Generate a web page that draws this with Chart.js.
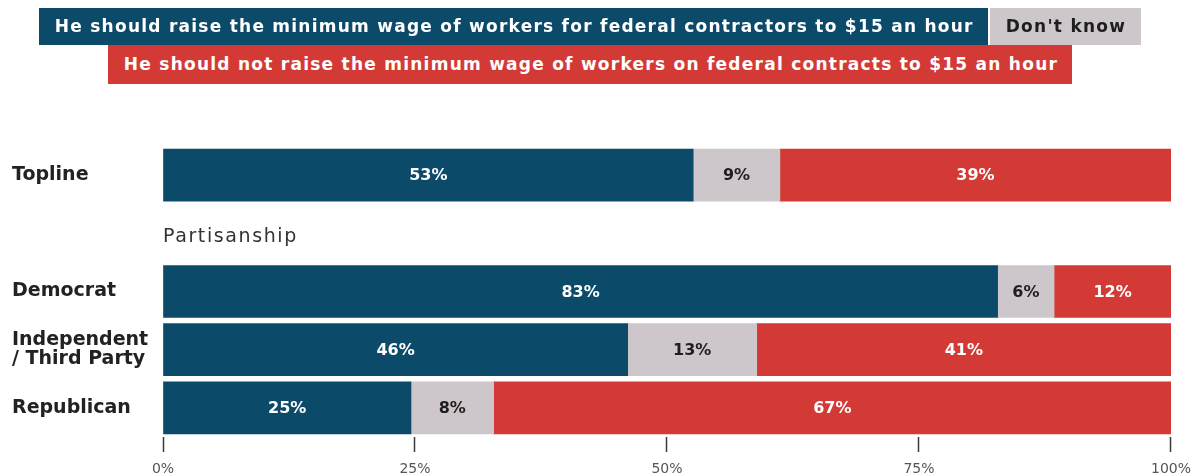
<!DOCTYPE html>
<html><head><meta charset="utf-8">
<script src="https://cdn.jsdelivr.net/npm/chart.js@4.4.1/dist/chart.umd.min.js"></script>
<style>
html,body{margin:0;padding:0;background:#fff;}
#wrap{position:relative;width:1200px;height:476px;overflow:hidden;}
#c{position:absolute;left:0;top:0;}
.row{position:absolute;left:0;width:1180px;display:flex;justify-content:center;}
.lg{box-sizing:border-box;white-space:nowrap;font-family:"DejaVu Sans",sans-serif;font-weight:700;font-size:17px;letter-spacing:1.25px;padding:0 14px 0 16px;}
</style></head>
<body><div id="wrap"><canvas id="c" width="1200" height="476"></canvas>
<div class="row" id="row1" style="top:8px;"></div>
<div class="row" id="row2" style="top:45px;"></div>
</div>
<script>
// ---- data ----
const categories = ['Topline', '', 'Democrat', ['Independent', '/ Third Party'], 'Republican'];
const sectionLabel = 'Partisanship';
const seriesNames = [
  'He should raise the minimum wage of workers for federal contractors to $15 an hour',
  "Don't know",
  'He should not raise the minimum wage of workers on federal contracts to $15 an hour'
];
const shouldRaise = [52.6, null, 82.8, 46.1, 24.6];
const dontKnow    = [8.6,  null, 5.6, 12.8, 8.2];
const shouldNot   = [38.8, null, 11.6, 41.1, 67.2];
const xTicks = [0, 25, 50, 75, 100];

// ---- styles ----
const colors = ['#0c4a6a', '#cdc7cb', '#d43a35'];
const textColors = ['#ffffff', '#1e1e1e', '#ffffff'];

// legend (HTML)
function legendBox(i, h){
  const d = document.createElement('div');
  d.className = 'lg';
  d.textContent = seriesNames[i];
  d.style.background = colors[i];
  d.style.color = textColors[i];
  d.style.height = h + 'px';
  d.style.lineHeight = h + 'px';
  return d;
}
document.getElementById('row1').appendChild(legendBox(0, 37));
const dk = legendBox(1, 37); dk.style.marginLeft = '2px'; dk.style.padding = '0 15px 0 16px';
document.getElementById('row1').appendChild(dk);
document.getElementById('row2').appendChild(legendBox(2, 39));

const FONT = '"DejaVu Sans", sans-serif';

const barLabels = {
  id: 'barLabels',
  afterDatasetsDraw(chart){
    const ctx = chart.ctx;
    ctx.save();
    ctx.font = '700 16px ' + FONT;
    ctx.textAlign = 'center';
    ctx.textBaseline = 'middle';
    chart.data.datasets.forEach((ds, di) => {
      const meta = chart.getDatasetMeta(di);
      meta.data.forEach((el, i) => {
        const v = ds.data[i];
        if (v === null || v === undefined) return;
        const p = el.getCenterPoint();
        ctx.fillStyle = textColors[di];
        ctx.fillText(Math.round(v) + '%', p.x, p.y + 1);
      });
    });
    ctx.restore();
  }
};

const sectionText = {
  id: 'sectionText',
  afterDraw(chart){
    const ctx = chart.ctx;
    const y = chart.scales.y.getPixelForValue(1);
    ctx.save();
    ctx.font = '400 19px ' + FONT;
    try { ctx.letterSpacing = '1.6px'; } catch(e) {}
    ctx.fillStyle = '#333333';
    ctx.textAlign = 'left';
    ctx.textBaseline = 'middle';
    ctx.fillText(sectionLabel, chart.chartArea.left, y + 4);
    ctx.restore();
  }
};

new Chart(document.getElementById('c'), {
  type: 'bar',
  data: {
    labels: categories,
    datasets: [
      { label: seriesNames[0], data: shouldRaise, backgroundColor: colors[0] },
      { label: seriesNames[1], data: dontKnow, backgroundColor: colors[1] },
      { label: seriesNames[2], data: shouldNot, backgroundColor: colors[2] }
    ]
  },
  options: {
    indexAxis: 'y',
    responsive: false,
    animation: false,
    devicePixelRatio: 1,
    barThickness: 52,
    layout: { padding: { top: 146, bottom: 0, left: 12, right: 29 } },
    plugins: { legend: { display: false }, tooltip: { enabled: false } },
    scales: {
      x: {
        stacked: true, min: 0, max: 100,
        afterBuildTicks(scale){ scale.ticks = xTicks.map(v => ({ value: v })); },
        afterFit(scale){ scale.height = 39; },
        border: { display: false },
        grid: { drawOnChartArea: false, drawTicks: true, tickLength: 15, tickColor: '#3a3a3a', tickWidth: 1.5 },
        ticks: { padding: 9, color: '#555555', font: { family: FONT, size: 14 }, callback: v => v + '%' }
      },
      y: {
        stacked: true,
        afterFit(scale){ scale.width = 151; },
        border: { display: false },
        grid: { display: false },
        ticks: { crossAlign: 'far', padding: 0, color: '#222222', font: { family: FONT, size: 19, weight: '700', lineHeight: 1.0 } }
      }
    }
  },
  plugins: [barLabels, sectionText]
});
</script>
</body></html>
